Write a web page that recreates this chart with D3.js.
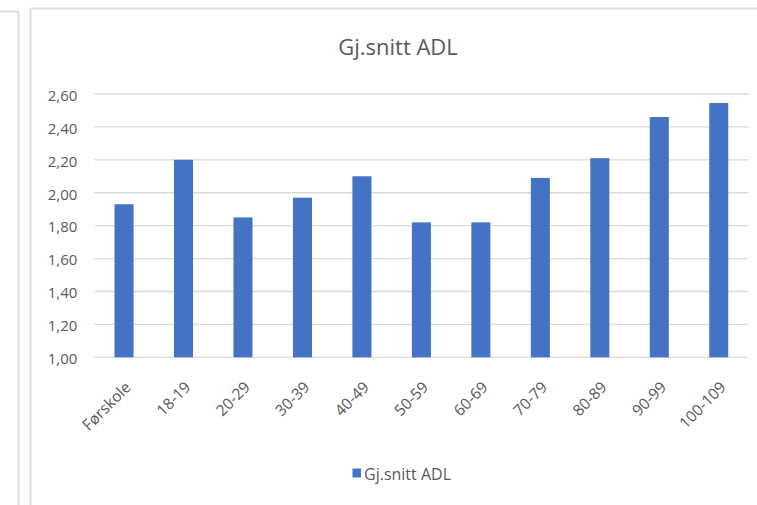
<!DOCTYPE html>
<html>
<head>
<meta charset="utf-8">
<script src="https://cdn.jsdelivr.net/npm/d3@7"></script>
<style>
html,body{margin:0;padding:0;background:#fff;}
svg{display:block;}
text{font-family:"Open Sans",sans-serif;fill:#595959;}
</style>
</head>
<body>
<svg id="chart" width="757" height="505"></svg>
<script>
const categories = ["Førskole","18-19","20-29","30-39","40-49","50-59","60-69","70-79","80-89","90-99","100-109"];
const values = [1.93, 2.20, 1.85, 1.97, 2.10, 1.82, 1.82, 2.09, 2.21, 2.46, 2.545];
const yTicks = [1.0, 1.2, 1.4, 1.6, 1.8, 2.0, 2.2, 2.4, 2.6];
const seriesName = "Gj.snitt ADL";
const chartTitle = "Gj.snitt ADL";

const svg = d3.select("#chart");

// frames
svg.append("line").attr("x1",0).attr("x2",18.5).attr("y1",11.5).attr("y2",11.5).attr("stroke","#dedede").attr("stroke-width",2);
svg.append("line").attr("x1",18.5).attr("x2",18.5).attr("y1",11).attr("y2",505).attr("stroke","#dedede").attr("stroke-width",2);
svg.append("line").attr("x1",30.5).attr("x2",757).attr("y1",8.5).attr("y2",8.5).attr("stroke","#dedede").attr("stroke-width",2);
svg.append("line").attr("x1",30.5).attr("x2",30.5).attr("y1",8).attr("y2",505).attr("stroke","#dedede").attr("stroke-width",2);

const pLeft = 94.3, pRight = 748.5, pTop = 94, pBottom = 357.3;

const x = d3.scaleBand().domain(categories).range([pLeft, pRight]).paddingInner(0.68).paddingOuter(0.34);
const y = d3.scaleLinear().domain([1.0, 2.6]).range([pBottom, pTop]);

// gridlines
svg.append("g").selectAll("line").data(yTicks).join("line")
  .attr("x1", pLeft).attr("x2", pRight)
  .attr("y1", d => y(d)).attr("y2", d => y(d))
  .attr("stroke", "#d9d9d9").attr("stroke-width", 1.3);

// y axis labels
const yAxis = d3.axisLeft(y).tickValues(yTicks).tickSize(0).tickPadding(0)
  .tickFormat(d => d3.format(".2f")(d).replace(".", ","));
const gy = svg.append("g").attr("transform", `translate(${pLeft - 17},0)`).call(yAxis);
gy.select(".domain").remove();
gy.selectAll("text").style("font-size","15px").style("font-family","'Open Sans',sans-serif").attr("fill","#595959").attr("dy","0.42em");

// bars
svg.append("g").selectAll("rect").data(values).join("rect")
  .attr("x", (d,i) => x(categories[i]))
  .attr("width", x.bandwidth())
  .attr("y", d => y(d))
  .attr("height", d => y(1.0) - y(d))
  .attr("fill", "#4472C4");

// x axis labels
const xAxis = d3.axisBottom(x).tickSize(0).tickPadding(0);
const gx = svg.append("g").attr("transform", `translate(0,${pBottom})`).call(xAxis);
gx.select(".domain").remove();
gx.selectAll("text")
  .style("font-size","15.5px").style("font-family","'Open Sans',sans-serif").attr("fill","#595959")
  .attr("text-anchor","end")
  .attr("dy", null).attr("y", 0)
  .attr("transform", "translate(8,31) rotate(-45)");

// title
svg.append("text").attr("x", 398).attr("y", 55).attr("text-anchor","middle")
  .style("font-size","22px").text(chartTitle);

// legend
const lg = svg.append("g");
lg.append("rect").attr("x", 352.5).attr("y", 468.5).attr("width", 8.5).attr("height", 9).attr("fill","#4472C4");
lg.append("text").attr("x", 364).attr("y", 480).style("font-size","16px").text(seriesName);
</script>
</body>
</html>
